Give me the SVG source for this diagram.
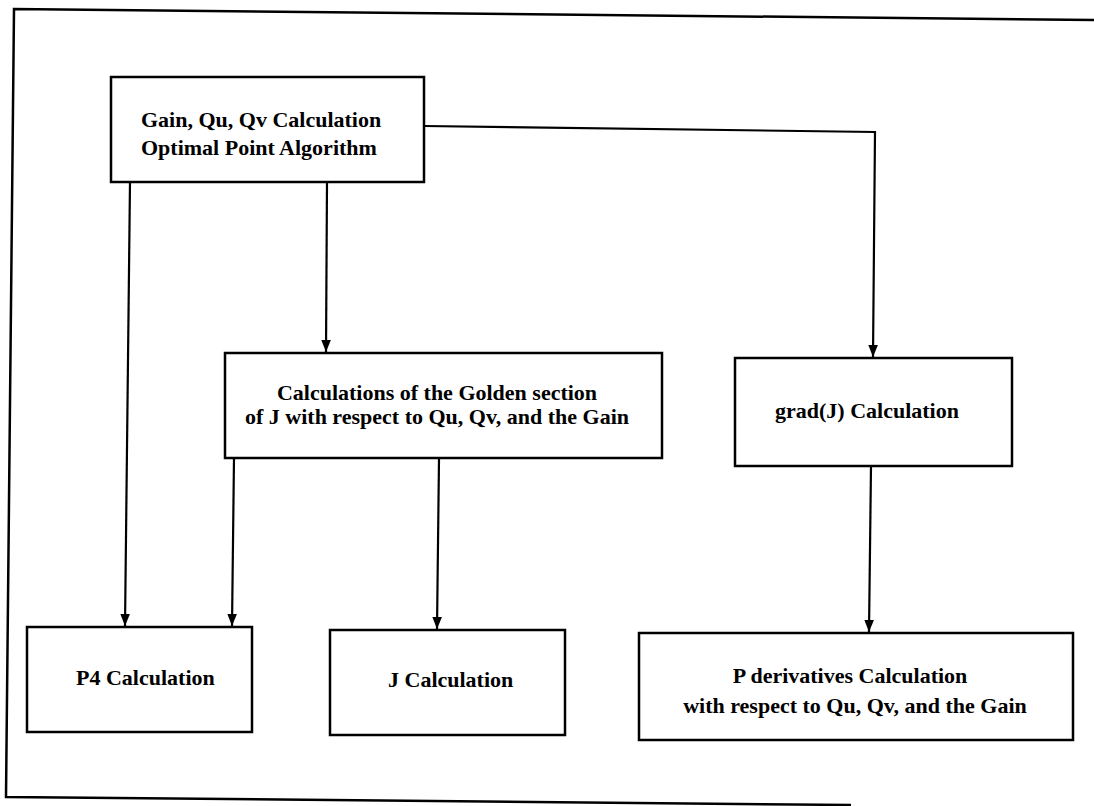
<svg xmlns="http://www.w3.org/2000/svg" width="1094" height="806" viewBox="0 0 1094 806">
<style>
.box{fill:#fff;stroke:#000;stroke-width:2.5}
.frame{fill:none;stroke:#000;stroke-width:2.5}
.lbl{font-family:"Liberation Serif","Times New Roman",serif;font-weight:bold;font-size:22px;fill:#000}
.con{fill:none;stroke:#000;stroke-width:2.2}
</style>
<defs>
<marker id="arr" viewBox="0 0 10 10" refX="10" refY="5" markerWidth="12" markerHeight="12" markerUnits="userSpaceOnUse" orient="auto">
<path d="M0,1 L10,5 L0,9 Z" fill="#000"/>
</marker>
</defs>
<rect width="1094" height="806" fill="#fff"/>
<path class="frame" d="M1094,20 L14,9 L6,797 L851,805"/>
<g id="connectors">
<path class="con" d="M130,182 L125,626" marker-end="url(#arr)"/>
<path class="con" d="M327,182 L326,352" marker-end="url(#arr)"/>
<path class="con" d="M424,126 L875,132 L873,357" marker-end="url(#arr)"/>
<path class="con" d="M234,458 L232,626" marker-end="url(#arr)"/>
<path class="con" d="M439,459 L437,629" marker-end="url(#arr)"/>
<path class="con" d="M871,466 L869,632" marker-end="url(#arr)"/>
</g>
<g id="n-gain">
<rect class="box" x="111" y="77" width="313" height="105"/>
<text class="lbl" x="141" y="127">Gain, Qu, Qv Calculation</text>
<text class="lbl" x="141" y="155">Optimal Point Algorithm</text>
</g>
<g id="n-golden">
<rect class="box" x="225" y="353" width="437" height="105"/>
<text class="lbl" x="437" y="400" text-anchor="middle">Calculations of the Golden section</text>
<text class="lbl" x="437" y="424" text-anchor="middle">of J with respect to Qu, Qv, and the Gain</text>
</g>
<g id="n-grad">
<rect class="box" x="735" y="358" width="277" height="108"/>
<text class="lbl" x="775" y="418">grad(J) Calculation</text>
</g>
<g id="n-p4">
<rect class="box" x="27" y="627" width="225" height="105"/>
<text class="lbl" x="76" y="685">P4 Calculation</text>
</g>
<g id="n-j">
<rect class="box" x="330" y="630" width="235" height="105"/>
<text class="lbl" x="388" y="687">J Calculation</text>
</g>
<g id="n-pderiv">
<rect class="box" x="639" y="633" width="434" height="107"/>
<text class="lbl" x="850" y="683" text-anchor="middle">P derivatives Calculation</text>
<text class="lbl" x="855" y="713" text-anchor="middle">with respect to Qu, Qv, and the Gain</text>
</g>
</svg>
